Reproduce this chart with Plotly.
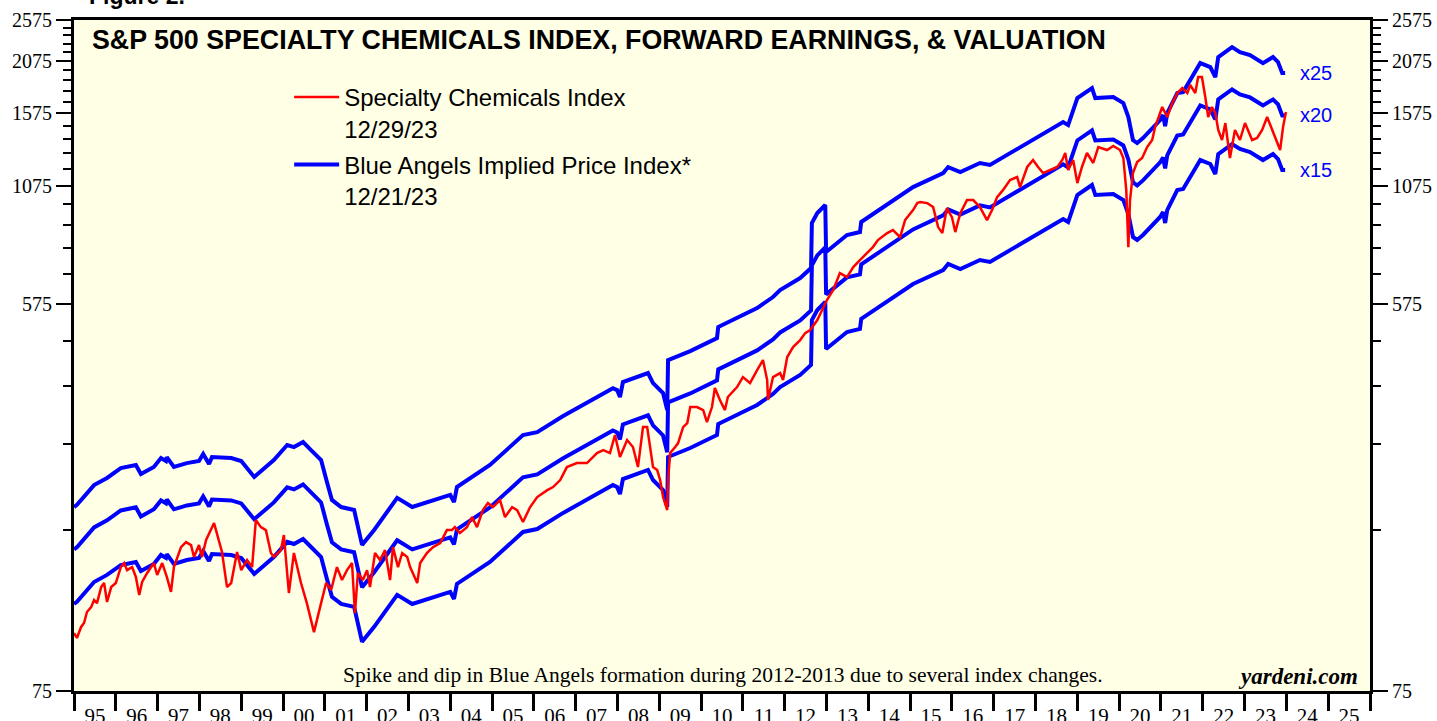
import math
import plotly.graph_objects as go

# ---- Data ----
red_years = [1995.00, 1995.07, 1995.17, 1995.24, 1995.31, 1995.41, 1995.48, 1995.55, 1995.65, 1995.72,
             1995.79, 1995.89, 1996.00, 1996.12, 1996.20, 1996.27, 1996.39, 1996.48, 1996.56, 1996.63,
             1996.75, 1996.91, 1996.99, 1997.11, 1997.22, 1997.32, 1997.39, 1997.56, 1997.68, 1997.80,
             1997.87, 1997.99, 1998.06, 1998.16, 1998.35, 1998.42, 1998.54, 1998.66, 1998.76, 1998.90,
             1999.00, 1999.14, 1999.26, 1999.35, 1999.47, 1999.59, 1999.71, 1999.78, 1999.95, 2000.02,
             2000.14, 2000.26, 2000.43, 2000.57, 2000.74, 2000.91, 2001.03, 2001.15, 2001.29, 2001.41,
             2001.53, 2001.65, 2001.72, 2001.79, 2001.91, 2002.01, 2002.08, 2002.20, 2002.32, 2002.44,
             2002.56, 2002.63, 2002.75, 2002.85, 2002.97, 2003.04, 2003.21, 2003.28, 2003.44, 2003.59,
             2003.76, 2003.92, 2004.04, 2004.11, 2004.23, 2004.40, 2004.52, 2004.64, 2004.78, 2004.90,
             2005.02, 2005.19, 2005.31, 2005.48, 2005.60, 2005.74, 2005.91, 2006.08, 2006.32, 2006.46,
             2006.63, 2006.79, 2007.03, 2007.27, 2007.51, 2007.66, 2007.82, 2007.94, 2008.06, 2008.23,
             2008.37, 2008.49, 2008.61, 2008.71, 2008.78, 2008.85, 2008.95, 2009.02, 2009.09, 2009.19,
             2009.21, 2009.26, 2009.38, 2009.45, 2009.57, 2009.67, 2009.74, 2009.90, 2010.05, 2010.14,
             2010.26, 2010.33, 2010.45, 2010.57, 2010.64, 2010.86, 2011.00, 2011.17, 2011.34, 2011.48,
             2011.58, 2011.60, 2011.72, 2011.89, 2011.96, 2012.06, 2012.20, 2012.37, 2012.49, 2012.61,
             2012.78, 2012.89, 2013.01, 2013.16, 2013.32, 2013.49, 2013.64, 2013.80, 2013.97, 2014.11,
             2014.23, 2014.45, 2014.59, 2014.76, 2014.88, 2015.07, 2015.17, 2015.24, 2015.41, 2015.55,
             2015.67, 2015.77, 2015.88, 2016.00, 2016.08, 2016.20, 2016.36, 2016.51, 2016.67, 2016.84,
             2016.96, 2017.08, 2017.22, 2017.39, 2017.56, 2017.63, 2017.80, 2017.94, 2018.06, 2018.18,
             2018.35, 2018.52, 2018.64, 2018.71, 2018.78, 2018.90, 2019.00, 2019.11, 2019.23, 2019.38,
             2019.50, 2019.71, 2019.86, 2020.02, 2020.10, 2020.17, 2020.22, 2020.26, 2020.33, 2020.43,
             2020.55, 2020.67, 2020.79, 2020.86, 2021.03, 2021.15, 2021.27, 2021.39, 2021.51, 2021.63,
             2021.70, 2021.82, 2021.89, 2021.98, 2022.06, 2022.13, 2022.22, 2022.30, 2022.37, 2022.46,
             2022.54, 2022.65, 2022.77, 2022.89, 2023.01, 2023.18, 2023.30, 2023.42, 2023.54, 2023.66,
             2023.78, 2023.85, 2023.92, 2023.99]
red_values = [101.8, 99.2, 105.1, 107.3, 113.7, 116.7, 121.1, 119.2, 129.7, 132.5,
              119.9, 129.7, 132.5, 144.1, 147.2, 141.8, 144.1, 136.8, 124.4, 133.2,
              139.7, 147.2, 138.2, 147.2, 136.8, 126.4, 144.1, 160.1, 164.4, 161.8,
              152.0, 161.8, 152.0, 166.2, 181.7, 172.4, 156.0, 129.7, 132.5, 156.0,
              141.8, 149.6, 144.1, 184.7, 177.9, 175.1, 155.2, 152.0, 157.6, 170.6,
              125.7, 155.2, 132.5, 119.2, 102.3, 119.2, 132.5, 127.7, 144.1, 134.6,
              141.8, 147.2, 113.1, 139.7, 134.6, 141.8, 129.7, 155.2, 149.6, 157.6,
              134.6, 160.1, 144.1, 155.2, 152.0, 144.1, 132.5, 147.2, 155.2, 160.1,
              163.5, 175.1, 175.1, 177.9, 172.4, 177.9, 187.6, 177.9, 194.6, 201.9,
              197.7, 205.2, 187.6, 197.7, 194.6, 182.7, 197.7, 208.4, 216.2, 219.7,
              228.0, 244.1, 249.3, 249.3, 262.8, 267.0, 262.8, 289.0, 257.4, 281.5,
              271.3, 244.1, 301.4, 301.4, 271.3, 244.1, 240.3, 228.0, 208.4, 194.6,
              228.0, 262.8, 271.3, 277.0, 301.4, 307.8, 334.9, 334.9, 329.6, 309.4,
              334.9, 370.2, 347.5, 329.6, 353.1, 372.2, 392.3, 380.1, 407.0, 429.1,
              386.1, 347.5, 392.3, 400.6, 386.1, 435.9, 459.5, 476.7, 494.6, 502.5,
              529.7, 558.3, 588.6, 620.5, 678.5, 664.4, 700.3, 726.6, 753.9, 778.1,
              807.5, 837.7, 851.1, 820.3, 897.1, 945.7, 981.1, 986.4, 981.1, 960.7,
              864.6, 837.7, 955.7, 911.4, 842.2, 930.8, 996.9, 996.9, 960.7, 897.1,
              945.7, 1012.7, 1050.5, 1107.8, 1125.5, 1067.3, 1186.8, 1231.5, 1186.8, 1149.4,
              1168.2, 1186.8, 1231.5, 1277.7, 1168.2, 1231.5, 1089.9, 1186.8, 1277.7, 1212.0,
              1318.5, 1297.8, 1325.5, 1297.8, 1244.5, 1050.5, 778.1, 996.9, 1149.4, 1218.5,
              1244.5, 1318.5, 1368.2, 1464.5, 1628, 1544, 1662, 1752, 1799, 1752,
              1828, 1752, 1907, 1907, 1716, 1544, 1628, 1577, 1442, 1368,
              1496, 1244.5, 1442, 1368, 1496, 1368, 1383, 1442, 1544, 1442,
              1346.5, 1297.8, 1464.5, 1585]

# Forward earnings (Blue Angels base): lines are earnings x 25, x 20, x 15
fe_years = [1995.00, 1995.07, 1995.48, 1995.79, 1996.12, 1996.48, 1996.60, 1996.91, 1997.08, 1997.20,
            1997.22, 1997.39, 1997.70, 1997.99, 1998.09, 1998.23, 1998.30, 1998.76, 1999.00, 1999.31,
            1999.78, 2000.10, 2000.26, 2000.48, 2000.67, 2000.91, 2001.05, 2001.17, 2001.39, 2001.70,
            2001.89, 2002.18, 2002.73, 2003.09, 2004.00, 2004.09, 2004.16, 2004.95, 2005.74, 2006.08,
            2006.70, 2006.87, 2007.89, 2007.99, 2008.06, 2008.13, 2008.73, 2008.85, 2009.09, 2009.19,
            2009.21, 2009.74, 2010.38, 2010.41, 2011.34, 2011.72, 2011.89, 2012.37, 2012.63, 2012.65,
            2012.78, 2012.97, 2012.99, 2013.49, 2013.80, 2013.83, 2014.59, 2015.07, 2015.79, 2015.91,
            2016.20, 2016.67, 2016.91, 2017.32, 2017.94, 2018.66, 2018.78, 2019.00, 2019.35, 2019.43,
            2019.86, 2020.10, 2020.22, 2020.33, 2020.43, 2020.57, 2020.98, 2021.05, 2021.10, 2021.15,
            2021.39, 2021.53, 2021.94, 2022.18, 2022.30, 2022.37, 2022.70, 2022.89, 2023.13, 2023.30,
            2023.44, 2023.68, 2023.80, 2023.90, 2023.97]
fe_values = [7.91, 8.00, 8.88, 9.22, 9.71, 9.87, 9.41, 9.77, 10.24, 10.08,
             10.29, 9.77, 9.97, 10.08, 10.46, 9.92, 10.29, 10.24, 10.08, 9.27,
             10.13, 10.97, 10.85, 11.14, 10.68, 10.13, 9.02, 8.21, 7.91, 7.79,
             6.48, 7.01, 8.30, 7.91, 8.43, 8.12, 8.79, 9.87, 11.56, 11.74,
             12.78, 13.05, 14.80, 14.65, 14.12, 15.28, 16.03, 15.20, 14.42, 13.19,
             17.16, 17.99, 19.27, 20.42, 22.57, 23.92, 24.81, 26.44, 27.87, 35.33,
             37.24, 38.85, 30.32, 33.16, 33.69, 35.52, 39.88, 42.70, 45.97, 47.45,
             46.19, 48.47, 47.97, 50.54, 54.71, 60.16, 59.20, 68.25, 71.96, 68.25,
             68.61, 66.47, 61.74, 54.71, 53.85, 55.29, 60.79, 62.39, 58.88, 63.06,
             70.05, 70.43, 82.07, 80.37, 76.24, 84.72, 89.29, 86.97, 85.61, 83.38,
             82.07, 84.72, 82.52, 77.86, 77.86]
multiples = [25, 20, 15]
multiple_labels = ["x25", "x20", "x15"]

y_major = [75, 575, 1075, 1575, 2075, 2575]
y_minor = [175, 275, 375, 475, 675, 775, 875, 975, 1175, 1275, 1375, 1475,
           1675, 1775, 1875, 1975, 2175, 2275, 2375, 2475]
year_labels = ["95", "96", "97", "98", "99", "00", "01", "02", "03", "04", "05",
               "06", "07", "08", "09", "10", "11", "12", "13", "14", "15", "16",
               "17", "18", "19", "20", "21", "22", "23", "24", "25"]
first_year = 1995

RED = "#FF0000"
BLUE = "#0000FF"
SERIF = "Liberation Serif, Times New Roman, serif"
SANS = "Liberation Sans, Arial, sans-serif"

fig = go.Figure()

for i, m in enumerate(multiples):
    fig.add_trace(go.Scatter(
        x=fe_years, y=[v * m for v in fe_values], mode="lines",
        line=dict(color=BLUE, width=4),
        name="Blue Angels Implied Price Index*<br>12/21/23",
        legendgroup="blue", showlegend=(i == 0), legendrank=2,
        hoverinfo="skip"))

fig.add_trace(go.Scatter(
    x=red_years, y=red_values, mode="lines",
    line=dict(color=RED, width=2.5),
    name="Specialty Chemicals Index<br>12/29/23", legendrank=1,
    hoverinfo="skip"))

# invisible copy on the right axis so that it is drawn
fig.add_trace(go.Scatter(
    x=red_years, y=red_values, mode="lines", yaxis="y2",
    line=dict(color="rgba(0,0,0,0)", width=0), showlegend=False,
    hoverinfo="skip"))

yrange = [math.log10(y_major[0]), math.log10(y_major[-1])]
yaxis_common = dict(
    type="log", range=yrange, tickmode="array", tickvals=y_major,
    ticktext=[str(v) for v in y_major], ticks="outside", ticklen=15,
    tickwidth=1.5, tickcolor="black", showgrid=False, zeroline=False,
    showline=True, linewidth=3, linecolor="black", automargin=False,
    tickfont=dict(family=SERIF, size=20, color="black"),
    minor=dict(tickmode="array", tickvals=y_minor, ticks="outside",
               ticklen=8, tickwidth=1.5, tickcolor="black", showgrid=False),
)

n_years = len(year_labels)
fig.update_layout(
    width=1437, height=721,
    margin=dict(l=74, r=67, t=20, b=30),
    paper_bgcolor="white", plot_bgcolor="#FFFFE6",
    showlegend=True,
    legend=dict(x=0.166, y=0.918, xanchor="left", yanchor="top",
                bgcolor="rgba(0,0,0,0)", valign="top", itemwidth=45,
                font=dict(family=SANS, size=24, color="black"),
                tracegroupgap=2),
    xaxis=dict(
        range=[first_year, first_year + n_years], tickmode="array",
        tickvals=[first_year + i + 0.5 for i in range(n_years)],
        ticktext=year_labels, ticks="", showgrid=False, zeroline=False,
        showline=True, linewidth=3, linecolor="black", mirror=True,
        automargin=False, ticklabelstandoff=4,
        tickfont=dict(family=SERIF, size=21, color="black"),
        minor=dict(tickmode="array",
                   tickvals=[first_year + i for i in range(n_years + 1)],
                   ticks="outside", ticklen=17, tickwidth=3,
                   tickcolor="black", showgrid=False),
    ),
    yaxis=dict(**yaxis_common, side="left"),
    yaxis2=dict(**yaxis_common, side="right", overlaying="y", anchor="x"),
)

annotations = [
    dict(text="<b>S&P 500 SPECIALTY CHEMICALS INDEX, FORWARD EARNINGS, & VALUATION</b>",
         xref="paper", yref="paper", x=0.0123, y=0.970, xanchor="left", yanchor="middle",
         showarrow=False, font=dict(family=SANS, size=26.8, color="black")),
    dict(text="Spike and dip in Blue Angels formation during 2012-2013 due to several index changes.",
         xref="paper", yref="paper", x=0.5008, y=0.024, xanchor="center", yanchor="middle",
         showarrow=False, font=dict(family=SERIF, size=21.5, color="black")),
    dict(text="<b><i>yardeni.com</i></b>",
         xref="paper", yref="paper", x=0.9923, y=0.021, xanchor="right", yanchor="middle",
         showarrow=False, font=dict(family=SERIF, size=23, color="black")),
    dict(text="<b>Figure 2.</b>",
         xref="paper", yref="paper", x=0.010, y=1.0135, xanchor="left", yanchor="bottom",
         showarrow=False, font=dict(family=SANS, size=23, color="black")),
]
for m, lab in zip(multiples, multiple_labels):
    annotations.append(dict(
        text=lab, xref="x", yref="y", x=fe_years[-1] + 0.3,
        y=math.log10(fe_values[-1] * m), xanchor="left", yanchor="middle",
        showarrow=False, font=dict(family=SANS, size=20, color=BLUE)))
fig.update_layout(annotations=annotations)

# remove the default page margin so the figure fills the window exactly
fig.write_html("out.html", config={"displayModeBar": False},
               post_script="document.body.style.margin='0px';")
